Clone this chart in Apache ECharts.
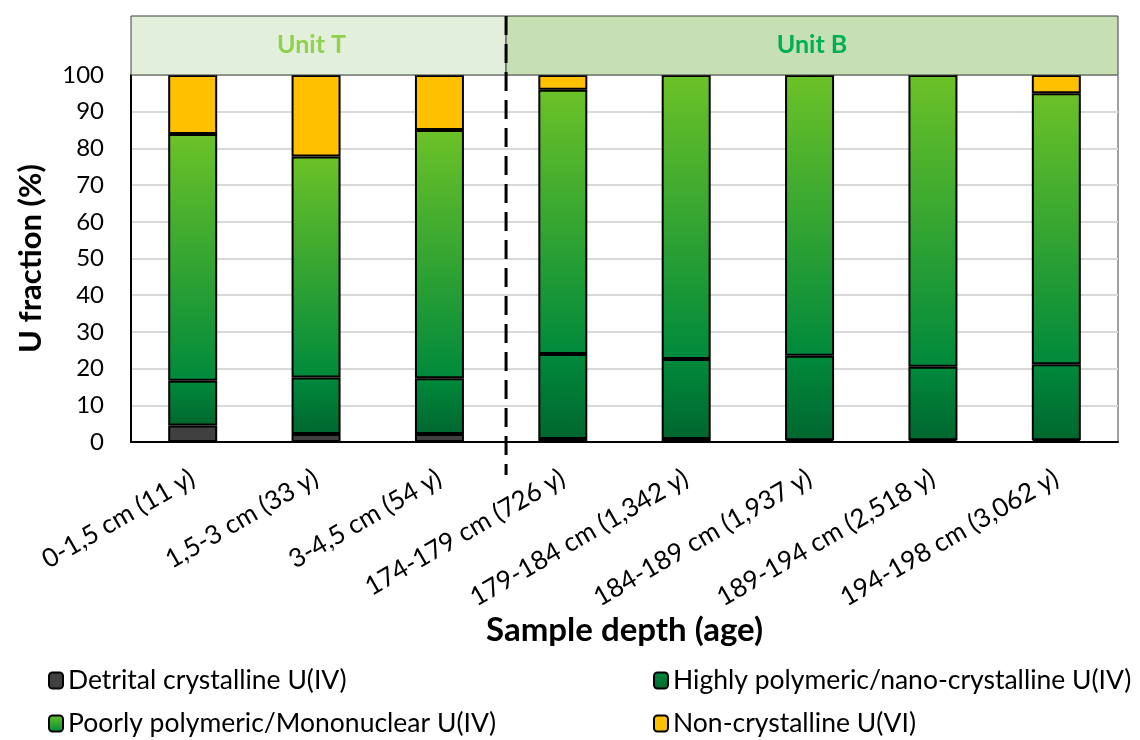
<!DOCTYPE html>
<html>
<head>
<meta charset="utf-8">
<script src="https://cdn.jsdelivr.net/npm/echarts@6/dist/echarts.min.js"></script>
<style>html,body{margin:0;padding:0;background:#fff;}#c{width:1140px;height:740px;}</style>
</head>
<body>
<div id="c"></div>
<script>
const categories = ['0-1,5 cm (11 y)', '1,5-3 cm (33 y)', '3-4,5 cm (54 y)', '174-179 cm (726 y)', '179-184 cm (1,342 y)', '184-189 cm (1,937 y)', '189-194 cm (2,518 y)', '194-198 cm (3,062 y)'];
const detrital = [4.5, 2.2, 2.2, 0.8, 0.8, 0.5, 0.5, 0.5];
const highlyPoly = [12.2, 15.4, 15.2, 23.2, 21.8, 23.0, 20.0, 20.7];
const poorlyPoly = [67.2, 60.2, 67.6, 72.0, 77.4, 76.5, 79.5, 73.8];
const nonCryst = [16.1, 22.2, 15.0, 4.0, 0, 0, 0, 5.0];
const seriesNames = ['Detrital crystalline U(IV)', 'Highly polymeric/nano-crystalline U(IV)', 'Poorly polymeric/Mononuclear U(IV)', 'Non-crystalline U(VI)'];
const unitLabels = ['Unit T', 'Unit B'];
const yTicks = [0, 100, 10];

const FONT = 'Lato';
const chart = echarts.init(document.getElementById('c'));
function grad(top, bottom) {
  return new echarts.graphic.LinearGradient(0, 0, 0, 1, [{offset: 0, color: top}, {offset: 1, color: bottom}]);
}
const colors = ['#404040', grad('#008a3c', '#00672e'), grad('#6cc227', '#008a3c'), '#ffc000'];
const dataArr = [detrital, highlyPoly, poorlyPoly, nonCryst];

// legend slots: [left, top]
const legendPos = [[43, 662], [648, 662], [43, 705], [648, 705]];
const legendOrder = [0, 1, 2, 3];

const option = {
  animation: false,
  textStyle: {fontFamily: FONT},
  grid: {left: 131, right: 22, top: 75, bottom: 298, show: true, borderColor: '#404040', borderWidth: 1, backgroundColor: 'transparent'},
  legend: legendOrder.map((si, k) => ({
    data: [seriesNames[si]], left: legendPos[k][0], top: legendPos[k][1], itemWidth: 14, itemHeight: 16, itemGap: 8,
    textStyle: {fontFamily: FONT, fontSize: 26.5, color: '#000'}, selectedMode: false
  })),
  xAxis: {
    type: 'category', data: categories,
    axisLine: {lineStyle: {color: '#000', width: 2}},
    axisTick: {show: false},
    axisLabel: {rotate: 30, fontSize: 26, color: '#000', margin: 34, fontFamily: FONT, interval: 0},
    name: 'Sample depth (age)', nameLocation: 'middle', nameGap: 172,
    nameTextStyle: {fontSize: 33, fontWeight: 'bold', color: '#000', fontFamily: FONT}
  },
  yAxis: {
    type: 'value', min: yTicks[0], max: yTicks[1], interval: yTicks[2],
    axisLine: {show: true, lineStyle: {color: '#000', width: 2}},
    axisTick: {show: false},
    splitLine: {lineStyle: {color: '#d9d9d9', width: 2}},
    axisLabel: {fontSize: 24, color: '#000', margin: 27, fontFamily: FONT},
    name: 'U fraction (%)', nameLocation: 'middle', nameGap: 85,
    nameTextStyle: {fontSize: 31, fontWeight: 'bold', color: '#000', fontFamily: FONT}
  },
  series: seriesNames.map((n, i) => ({
    name: n, type: 'bar', stack: 'u', data: dataArr[i], barWidth: 49,
    itemStyle: {color: colors[i], borderColor: '#000', borderWidth: 2},
    emphasis: {disabled: true}
  }))
};
chart.setOption(option);

// header bands and divider computed from the axis
const p0 = chart.convertToPixel({xAxisIndex: 0}, 0);
const p1 = chart.convertToPixel({xAxisIndex: 0}, 1);
const step = p1 - p0;
const xStart = p0 - step / 2;
const xDiv = chart.convertToPixel({xAxisIndex: 0}, 2) + step * 0.54;
const xEnd = chart.convertToPixel({xAxisIndex: 0}, categories.length - 1) + step / 2;
const yTop = chart.convertToPixel({yAxisIndex: 0}, 100);
const yBot = chart.convertToPixel({yAxisIndex: 0}, 0);
const hTop = 16;
chart.setOption({
  graphic: [
    {type: 'rect', shape: {x: xStart, y: hTop, width: xDiv - xStart, height: yTop - hTop}, style: {fill: '#e2efda', stroke: '#404040', lineWidth: 1}, z: 10},
    {type: 'rect', shape: {x: xDiv, y: hTop, width: xEnd - xDiv, height: yTop - hTop}, style: {fill: '#c6e0b4', stroke: '#404040', lineWidth: 1}, z: 10},
    {type: 'text', x: (xStart + xDiv) / 2 - 7, y: (hTop + yTop) / 2 - 1, style: {text: unitLabels[0], fill: '#92d050', font: 'bold 25px ' + FONT, align: 'center', verticalAlign: 'middle'}, z: 11},
    {type: 'text', x: (xDiv + xEnd) / 2, y: (hTop + yTop) / 2 - 1, style: {text: unitLabels[1], fill: '#00b050', font: 'bold 25px ' + FONT, align: 'center', verticalAlign: 'middle'}, z: 11},
    {type: 'line', shape: {x1: xDiv, y1: hTop, x2: xDiv, y2: yBot + 33}, style: {stroke: '#000', lineWidth: 3, lineDash: [19, 9]}, z: 12}
  ]
});
</script>
</body>
</html>
